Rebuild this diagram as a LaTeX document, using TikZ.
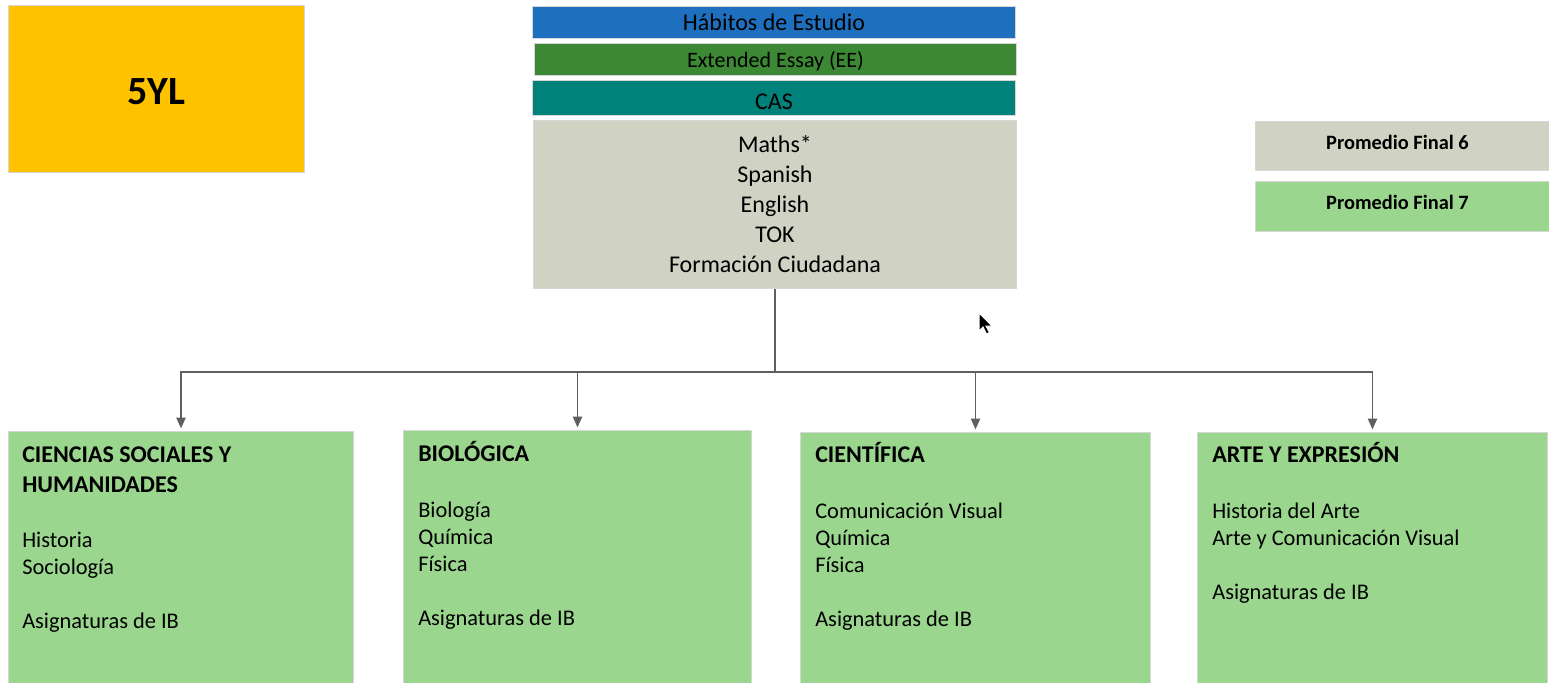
\documentclass[tikz,border=0pt]{standalone}
\usepackage{fontspec}
\setmainfont{Carlito}
\usetikzlibrary{arrows.meta}

\definecolor{gold}{RGB}{255,194,0}
\definecolor{habitblue}{RGB}{30,112,190}
\definecolor{essaygreen}{RGB}{60,136,52}
\definecolor{casteal}{RGB}{0,130,122}
\definecolor{coregray}{RGB}{208,210,196}
\definecolor{areagreen}{RGB}{155,214,142}
\definecolor{rim}{RGB}{215,215,215}
\definecolor{wire}{RGB}{95,95,95}

\begin{document}
\begin{tikzpicture}[
        x=0.75pt, y=-0.75pt,
        box/.style={draw=rim, line width=0.75pt, inner sep=0pt, anchor=north west},
        bar/.style={box, minimum width=362.25pt, font=\fontsize{18}{22.5}\selectfont},
        legend/.style={box, minimum width=225pt, text height=10.7pt, text depth=6pt, font=\bfseries\fontsize{15.3}{18}\selectfont},
        area/.style={box, fill=areagreen, minimum height=201.75pt},
        head/.style={anchor=base west, inner sep=0pt, text width=250pt, align=flush left, font=\bfseries\fontsize{18}{22.5}\selectfont},
        item/.style={anchor=base west, inner sep=0pt, text width=250pt, align=flush left, font=\fontsize{16.8}{20.25}\selectfont},
        link/.style={draw=wire, line width=0.9pt},
        arrow/.style={link, -{Triangle[width=7pt,length=8pt]}, shorten >=2pt},
    ]
        \useasboundingbox (0,0) rectangle (1549,682);

        % level box
        \node[box, fill=gold, minimum width=222pt, minimum height=125.25pt, text height=23.5pt, text depth=0pt,
            font=\bfseries\fontsize{30}{36}\selectfont] (level) at (8,5) {5YL};

        % core programme
        \node[bar, fill=habitblue, minimum height=24pt] (habitos) at (532,6) {Hábitos de Estudio};
        \node[bar, fill=essaygreen, minimum width=361.5pt, minimum height=24pt, text height=15.4pt, text depth=3.3pt,
            font=\fontsize{16.5}{20}\selectfont] (essay) at (534,43) {Extended Essay (EE)};
        \node[bar, fill=casteal, minimum height=26.25pt, text height=17.6pt, text depth=0pt] (cas) at (532,80) {CAS};
        \node[bar, fill=coregray, minimum height=126pt, align=center] (core) at (533,120)
            {Maths*\\Spanish\\English\\TOK\\Formación Ciudadana};

        % legend
        \node[legend, fill=coregray, minimum height=36.75pt] (prom6) at (1255,121) {\hspace*{-12pt}Promedio Final 6};
        \node[legend, fill=areagreen, minimum height=37.5pt] (prom7) at (1255,181) {\hspace*{-12pt}Promedio Final 7};

        % areas
        \node[area, minimum width=258.75pt] (sociales) at (8,431) {};
        \node[area, minimum width=261pt] (biologica) at (403,430) {};
        \node[area, minimum width=262.5pt] (cientifica) at (800,432) {};
        \node[area, minimum width=262.5pt] (arte) at (1197,432) {};

        \node[head] (sociales-head) at (22,462) {CIENCIAS SOCIALES Y\\HUMANIDADES};
        \node[item] (sociales-list) at (22,547) {Historia\\Sociología\\[20.25pt]Asignaturas de IB};

        \node[head] (biologica-head) at (418,461) {BIOLÓGICA};
        \node[item] (biologica-list) at (418,517) {Biología\\Química\\Física\\[20.25pt]Asignaturas de IB};

        \node[head] (cientifica-head) at (815,462) {CIENTÍFICA};
        \node[item] (cientifica-list) at (815,518) {Comunicación Visual\\Química\\Física\\[20.25pt]Asignaturas de IB};

        \node[head] (arte-head) at (1212,462) {ARTE Y EXPRESIÓN};
        \node[item] (arte-list) at (1212,518) {Historia del Arte\\Arte y Comunicación Visual\\[20.25pt]Asignaturas de IB};

        % connectors
        \coordinate (hub) at (775,372);
        \draw[link] (core.south) -- (hub);
        \draw[arrow] (hub) -| (sociales.north);
        \draw[arrow] (hub) -| (biologica.north);
        \draw[arrow] (hub) -| (cientifica.north);
        \draw[arrow] (hub) -| (arte.north);

        % mouse pointer
        \fill[black, draw=white, line width=0.75pt] (979,313) -- (979,331) -- (983,327) -- (986.5,334)
            -- (989.5,332.5) -- (986,326) -- (992,326) -- cycle;
    \end{tikzpicture}
\end{document}
